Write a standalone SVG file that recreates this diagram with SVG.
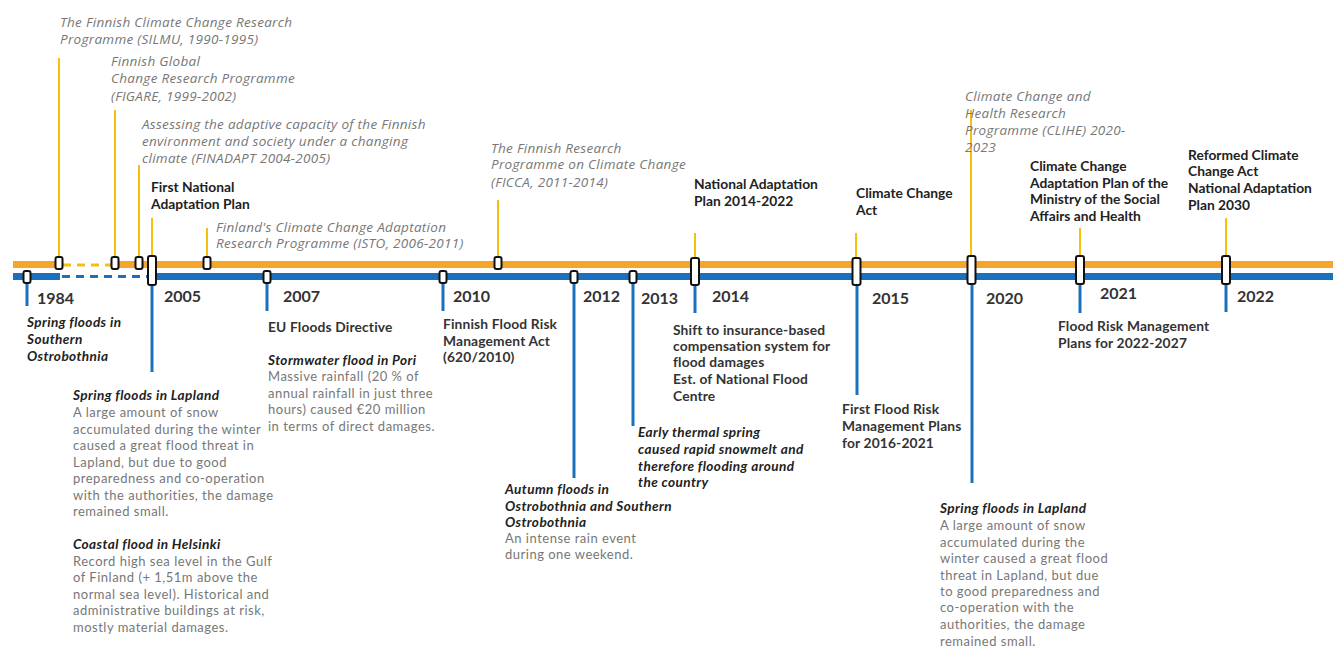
<svg xmlns="http://www.w3.org/2000/svg" width="1333" height="648" viewBox="0 0 1333 648">
<style>
.prog{font-family:"Open Sans","Liberation Sans",sans-serif;font-style:italic;font-size:13.5px;letter-spacing:0.3px;fill:#777}
.head{font-family:Lato,"Liberation Sans",sans-serif;font-weight:700;font-size:13.8px;fill:#222}
.med{font-family:Lato,"Liberation Sans",sans-serif;font-weight:700;font-size:13.8px;letter-spacing:0.15px;fill:#333}
.ev{font-family:Lato,"Liberation Sans",sans-serif;font-style:italic;font-weight:700;font-size:13.6px;letter-spacing:0.4px;fill:#222}
.body{font-family:Lato,"Liberation Sans",sans-serif;font-size:13px;letter-spacing:0.5px;fill:#777}
.year{font-family:Lato,"Liberation Sans",sans-serif;font-size:16px;font-weight:700;fill:#333}
.yl{stroke:#F5C010;stroke-width:2}
.bl{stroke:#1B70BE;stroke-width:3}
.mk{fill:#fff;stroke:#111;stroke-width:2}
</style>
<rect width="1333" height="648" fill="#fff"/>
<g id="connectors">
<rect x="13" y="261" width="44" height="7" fill="#F5A52A"/>
<line x1="63" y1="265" x2="112" y2="265" stroke="#F5C010" stroke-width="3" stroke-dasharray="8 6"/>
<rect x="118" y="261" width="1215" height="7" fill="#F5A52A"/>
<rect x="13" y="273" width="47" height="7" fill="#1B70BE"/>
<line x1="62" y1="276.5" x2="148" y2="276.5" stroke="#1B70BE" stroke-width="3" stroke-dasharray="8 6"/>
<rect x="150" y="273" width="1183" height="7" fill="#1B70BE"/>
<line class="yl" x1="59" y1="58" x2="59" y2="257"/>
<line class="yl" x1="115" y1="110" x2="115" y2="257"/>
<line class="yl" x1="139" y1="165" x2="139" y2="257"/>
<line class="yl" x1="152" y1="218" x2="152" y2="256"/>
<line class="yl" x1="207" y1="228" x2="207" y2="257"/>
<line class="yl" x1="498" y1="200" x2="498" y2="257"/>
<line class="yl" x1="695" y1="233" x2="695" y2="258"/>
<line class="yl" x1="856" y1="233" x2="856" y2="258"/>
<line class="yl" x1="971" y1="110" x2="971" y2="258"/>
<line class="yl" x1="1080" y1="228" x2="1080" y2="258"/>
<line class="yl" x1="1226" y1="218" x2="1226" y2="258"/>
<line class="bl" x1="27" y1="283" x2="27" y2="306"/>
<line class="bl" x1="152" y1="285" x2="152" y2="372"/>
<line class="bl" x1="267" y1="283" x2="267" y2="311"/>
<line class="bl" x1="443" y1="283" x2="443" y2="311"/>
<line class="bl" x1="574" y1="283" x2="574" y2="478"/>
<line class="bl" x1="633" y1="283" x2="633" y2="426"/>
<line class="bl" x1="695" y1="285" x2="695" y2="313"/>
<line class="bl" x1="857" y1="285" x2="857" y2="395"/>
<line class="bl" x1="972" y1="285" x2="972" y2="483"/>
<line class="bl" x1="1080" y1="285" x2="1080" y2="313"/>
<line class="bl" x1="1226" y1="285" x2="1226" y2="312"/>
</g>
<g id="markers">
<rect class="mk" x="55.5" y="257" width="7" height="12" rx="2"/>
<rect class="mk" x="111.5" y="257" width="7" height="12" rx="2"/>
<rect class="mk" x="135.5" y="257" width="7" height="12" rx="2"/>
<rect class="mk" x="203.5" y="257" width="7" height="12" rx="2"/>
<rect class="mk" x="494.5" y="257" width="7" height="12" rx="2"/>
<rect class="mk" x="23.5" y="271" width="7" height="12" rx="2"/>
<rect class="mk" x="263.5" y="271" width="7" height="12" rx="2"/>
<rect class="mk" x="439.5" y="271" width="7" height="12" rx="2"/>
<rect class="mk" x="570.5" y="271" width="7" height="12" rx="2"/>
<rect class="mk" x="629.5" y="271" width="7" height="12" rx="2"/>
<rect class="mk" x="148" y="256" width="8" height="29" rx="2"/>
<rect class="mk" x="691" y="258" width="8" height="27" rx="2"/>
<rect class="mk" x="852.5" y="258" width="8" height="27" rx="2"/>
<rect class="mk" x="967.5" y="256" width="8" height="28" rx="2"/>
<rect class="mk" x="1076" y="256" width="8" height="28" rx="2"/>
<rect class="mk" x="1222" y="256" width="8" height="28" rx="2"/>
</g>
<g id="silmu"><text class="prog" x="60" y="27">The Finnish Climate Change Research</text><text class="prog" x="60" y="44">Programme (SILMU, 1990-1995)</text></g>
<g id="figare"><text class="prog" x="111" y="66">Finnish Global</text><text class="prog" x="111" y="83">Change Research Programme</text><text class="prog" x="111" y="101">(FIGARE, 1999-2002)</text></g>
<g id="finadapt"><text class="prog" x="142" y="129">Assessing the adaptive capacity of the Finnish</text><text class="prog" x="142" y="146">environment and society under a changing</text><text class="prog" x="142" y="163">climate (FINADAPT 2004-2005)</text></g>
<g id="first-nap"><text class="head" x="151" y="192">First National</text><text class="head" x="151" y="209">Adaptation Plan</text></g>
<g id="isto"><text class="prog" x="216" y="232">Finland's Climate Change Adaptation</text><text class="prog" x="216" y="248">Research Programme (ISTO, 2006-2011)</text></g>
<g id="ficca"><text class="prog" x="491" y="153">The Finnish Research</text><text class="prog" x="491" y="169">Programme on Climate Change</text><text class="prog" x="491" y="187">(FICCA, 2011-2014)</text></g>
<g id="nap2014"><text class="head" x="694" y="189">National Adaptation</text><text class="head" x="694" y="206">Plan 2014-2022</text></g>
<g id="cca"><text class="head" x="856" y="198">Climate Change</text><text class="head" x="856" y="215">Act</text></g>
<g id="clihe"><text class="prog" x="965" y="101">Climate Change and</text><text class="prog" x="965" y="118">Health Research</text><text class="prog" x="965" y="135">Programme (CLIHE) 2020-</text><text class="prog" x="965" y="152">2023</text></g>
<g id="ccap-msah"><text class="head" x="1030" y="171">Climate Change</text><text class="head" x="1030" y="188">Adaptation Plan of the</text><text class="head" x="1030" y="204">Ministry of the Social</text><text class="head" x="1030" y="221">Affairs and Health</text></g>
<g id="reformed"><text class="head" x="1188" y="160">Reformed Climate</text><text class="head" x="1188" y="176">Change Act</text><text class="head" x="1188" y="193">National Adaptation</text><text class="head" x="1188" y="210">Plan 2030</text></g>
<g id="years">
<text class="year" x="37" y="304">1984</text>
<text class="year" x="164" y="302">2005</text>
<text class="year" x="283" y="302">2007</text>
<text class="year" x="453" y="302">2010</text>
<text class="year" x="583" y="302">2012</text>
<text class="year" x="641" y="304">2013</text>
<text class="year" x="712" y="302">2014</text>
<text class="year" x="872" y="304">2015</text>
<text class="year" x="986" y="304">2020</text>
<text class="year" x="1100" y="299">2021</text>
<text class="year" x="1237" y="302">2022</text>
</g>
<g id="ev1984"><text class="ev" x="27" y="327">Spring floods in</text><text class="ev" x="27" y="344">Southern</text><text class="ev" x="27" y="361">Ostrobothnia</text></g>
<g id="ev2005">
<text class="ev" x="73" y="400">Spring floods in Lapland</text>
<text class="body" x="73" y="417">A large amount of snow</text>
<text class="body" x="73" y="434">accumulated during the winter</text>
<text class="body" x="73" y="450">caused a great flood threat in</text>
<text class="body" x="73" y="467">Lapland, but due to good</text>
<text class="body" x="73" y="483">preparedness and co-operation</text>
<text class="body" x="73" y="500">with the authorities, the damage</text>
<text class="body" x="73" y="516">remained small.</text>
<text class="ev" x="73" y="549">Coastal flood in Helsinki</text>
<text class="body" x="73" y="566">Record high sea level in the Gulf</text>
<text class="body" x="73" y="582">of Finland (+ 1,51m above the</text>
<text class="body" x="73" y="599">normal sea level). Historical and</text>
<text class="body" x="73" y="615">administrative buildings at risk,</text>
<text class="body" x="73" y="632">mostly material damages.</text>
</g>
<g id="ev2007">
<text class="med" x="268" y="332">EU Floods Directive</text>
<text class="ev" x="268" y="365">Stormwater flood in Pori</text>
<text class="body" x="268" y="381">Massive rainfall (20 % of</text>
<text class="body" x="268" y="398">annual rainfall in just three</text>
<text class="body" x="268" y="414">hours) caused €20 million</text>
<text class="body" x="268" y="431">in terms of direct damages.</text>
</g>
<g id="ev2010"><text class="med" x="443" y="329">Finnish Flood Risk</text><text class="med" x="443" y="346">Management Act</text><text class="med" x="443" y="362">(620/2010)</text></g>
<g id="ev2012">
<text class="ev" x="505" y="494">Autumn floods in</text>
<text class="ev" x="505" y="511">Ostrobothnia and Southern</text>
<text class="ev" x="505" y="527">Ostrobothnia</text>
<text class="body" x="505" y="543">An intense rain event</text>
<text class="body" x="505" y="559">during one weekend.</text>
</g>
<g id="ev2013"><text class="ev" x="638" y="437">Early thermal spring</text><text class="ev" x="638" y="454">caused rapid snowmelt and</text><text class="ev" x="638" y="471">therefore flooding around</text><text class="ev" x="638" y="487">the country</text></g>
<g id="ev2014"><text class="med" x="673" y="335">Shift to insurance-based</text><text class="med" x="673" y="351">compensation system for</text><text class="med" x="673" y="367">flood damages</text><text class="med" x="673" y="384">Est. of National Flood</text><text class="med" x="673" y="401">Centre</text></g>
<g id="ev2015"><text class="med" x="842" y="414">First Flood Risk</text><text class="med" x="842" y="431">Management Plans</text><text class="med" x="842" y="448">for 2016-2021</text></g>
<g id="ev2021"><text class="med" x="1058" y="331">Flood Risk Management</text><text class="med" x="1058" y="348">Plans for 2022-2027</text></g>
<g id="ev2020">
<text class="ev" x="940" y="513">Spring floods in Lapland</text>
<text class="body" x="940" y="530">A large amount of snow</text>
<text class="body" x="940" y="547">accumulated during the</text>
<text class="body" x="940" y="563">winter caused a great flood</text>
<text class="body" x="940" y="580">threat in Lapland, but due</text>
<text class="body" x="940" y="596">to good preparedness and</text>
<text class="body" x="940" y="612">co-operation with the</text>
<text class="body" x="940" y="629">authorities, the damage</text>
<text class="body" x="940" y="646">remained small.</text>
</g>
</svg>
